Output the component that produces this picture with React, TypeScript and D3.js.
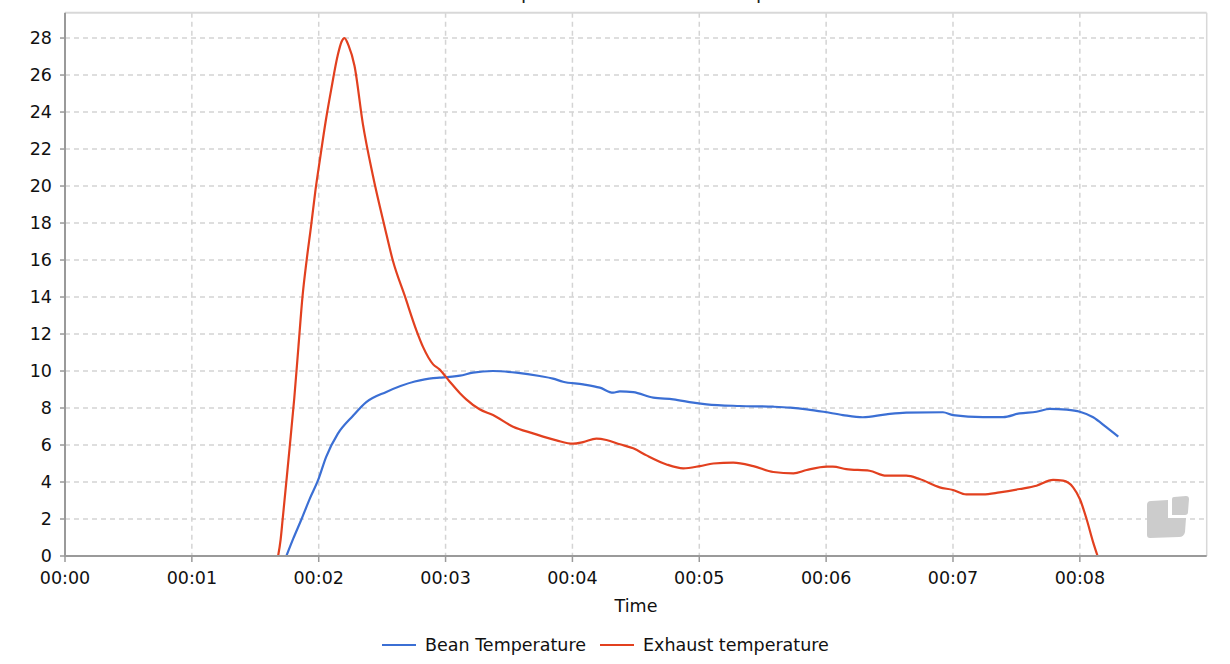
import React, { useRef, useEffect } from 'react';
import * as d3 from 'd3';

// time in minutes
const beanTimes = [1.745, 1.8, 1.865, 1.93, 1.995, 2.058, 2.15, 2.269, 2.375, 2.533, 2.757, 2.902, 2.953, 3.113, 3.216, 3.374, 3.558, 3.742, 3.847, 3.926, 4.084, 4.216, 4.321, 4.374, 4.479, 4.637, 4.795, 4.953, 5.058, 5.32, 5.584, 5.716, 5.847, 5.979, 6.132, 6.289, 6.474, 6.632, 6.921, 7.0, 7.237, 7.395, 7.526, 7.658, 7.763, 7.895, 8.0, 8.105, 8.211, 8.303];
const beanTemps = [0, 0.95, 2.0, 3.1, 4.1, 5.35, 6.6, 7.57, 8.32, 8.87, 9.43, 9.62, 9.64, 9.75, 9.91, 10.0, 9.91, 9.73, 9.59, 9.42, 9.28, 9.1, 8.83, 8.9, 8.86, 8.56, 8.47, 8.29, 8.2, 8.11, 8.07, 8.02, 7.93, 7.8, 7.62, 7.5, 7.66, 7.75, 7.77, 7.62, 7.51, 7.51, 7.71, 7.8, 7.95, 7.91, 7.8, 7.5, 6.95, 6.45];

const exhaustTimes = [1.68, 1.70, 1.716, 1.746, 1.77, 1.807, 1.84, 1.873, 1.905, 1.939, 1.975, 2.011, 2.055, 2.098, 2.15, 2.18, 2.203, 2.235, 2.282, 2.348, 2.427, 2.52, 2.586, 2.678, 2.77, 2.823, 2.902, 2.95, 3.03, 3.113, 3.163, 3.268, 3.374, 3.532, 3.689, 3.874, 4.005, 4.084, 4.189, 4.268, 4.374, 4.479, 4.584, 4.742, 4.874, 5.005, 5.111, 5.268, 5.426, 5.584, 5.742, 5.847, 6.005, 6.053, 6.158, 6.342, 6.474, 6.632, 6.737, 6.895, 7.0, 7.105, 7.237, 7.368, 7.526, 7.658, 7.789, 7.868, 7.947, 8.0, 8.053, 8.105, 8.14];
const exhaustTemps = [0, 0.9, 2.0, 4.1, 5.8, 8.5, 11.3, 14.07, 16.0, 17.79, 19.8, 21.5, 23.5, 25.2, 27.07, 27.8, 28.0, 27.6, 26.5, 23.36, 20.57, 17.79, 15.93, 14.07, 12.2, 11.29, 10.36, 10.1, 9.45, 8.8, 8.47, 7.93, 7.62, 6.99, 6.63, 6.25, 6.07, 6.16, 6.34, 6.27, 6.04, 5.82, 5.44, 4.95, 4.74, 4.86, 5.0, 5.05, 4.86, 4.54, 4.47, 4.65, 4.83, 4.83, 4.7, 4.61, 4.34, 4.34, 4.16, 3.71, 3.57, 3.33, 3.33, 3.44, 3.62, 3.8, 4.11, 4.07, 3.71, 3.08, 2.0, 0.74, 0];

const xTicks = [0, 1, 2, 3, 4, 5, 6, 7, 8];
const yTicks = [0, 2, 4, 6, 8, 10, 12, 14, 16, 18, 20, 22, 24, 26, 28];
const seriesNames = ['Bean Temperature', 'Exhaust temperature'];
const seriesColors = ['#3b6fd4', '#e2401f'];
const chartTitle = 'Bean Temperature vs Exhaust temperature';

export default function App() {
    const svgRef = useRef<SVGSVGElement | null>(null);

    useEffect(() => {
        const width = 1230;
        const height = 664;
        const margin = { top: 12.7, right: 23.3, bottom: 108, left: 65 };
        const font = 'DejaVu Sans';
        const fontSize = 17.5;

        d3.select(svgRef.current).selectAll('*').remove();

        const svg = d3
            .select(svgRef.current)
            .attr('width', width)
            .attr('height', height);

        const x = d3
            .scaleLinear()
            .domain([0, 9])
            .range([margin.left, width - margin.right]);

        const y = d3
            .scaleLinear()
            .domain([0, 29.37])
            .range([height - margin.bottom, margin.top]);

        const fmt = (m: number) => '00:' + String(m).padStart(2, '0');

        // title sits above the visible area, only descenders show
        svg.append('text')
            .attr('x', 633)
            .attr('y', -1.5)
            .attr('text-anchor', 'middle')
            .attr('font-family', font)
            .attr('font-size', 19)
            .attr('fill', '#222')
            .text(chartTitle);

        // grid
        svg.append('g')
            .selectAll('line')
            .data(yTicks.filter((d) => d > 0))
            .join('line')
            .attr('x1', x(0))
            .attr('x2', x(9))
            .attr('y1', (d) => y(d))
            .attr('y2', (d) => y(d))
            .attr('stroke', '#d4d4d4')
            .attr('stroke-width', 1.5)
            .attr('stroke-dasharray', '5,4');

        svg.append('g')
            .selectAll('line')
            .data(xTicks.filter((d) => d > 0))
            .join('line')
            .attr('x1', (d) => x(d))
            .attr('x2', (d) => x(d))
            .attr('y1', y(29.37))
            .attr('y2', y(0))
            .attr('stroke', '#d4d4d4')
            .attr('stroke-width', 1.5)
            .attr('stroke-dasharray', '5,4');

        // frame: top and right light, left and bottom darker
        svg.append('line')
            .attr('x1', x(0))
            .attr('x2', x(9))
            .attr('y1', y(29.37))
            .attr('y2', y(29.37))
            .attr('stroke', '#d8d8d8')
            .attr('stroke-width', 2);
        svg.append('line')
            .attr('x1', x(9))
            .attr('x2', x(9))
            .attr('y1', y(29.37))
            .attr('y2', y(0))
            .attr('stroke', '#d8d8d8')
            .attr('stroke-width', 1.5);

        // watermark
        const wm = svg.append('g').attr('fill', '#cccccc');
        wm.append('path').attr(
            'd',
            'M1151,501 L1168,500 L1168,518 L1186,518 L1185,532 Q1184,537 1179,537 L1150,538 Q1147,538 1147,535 L1147,505 Q1147,501 1151,501 Z'
        );
        wm.append('path').attr(
            'd',
            'M1174,497 L1186,496 Q1189,496 1189,499 L1188,512 Q1188,515 1185,515 L1172,515 L1172,499 Q1172,497 1174,497 Z'
        );

        // lines
        const line = d3
            .line<[number, number]>()
            .x((d) => x(d[0]))
            .y((d) => y(d[1]))
            .curve(d3.curveMonotoneX);

        const bean = beanTimes.map((t, i) => [t, beanTemps[i]] as [number, number]);
        const exhaust = exhaustTimes.map((t, i) => [t, exhaustTemps[i]] as [number, number]);

        [bean, exhaust].forEach((pts, i) => {
            svg.append('path')
                .attr('d', line(pts))
                .attr('fill', 'none')
                .attr('stroke', seriesColors[i])
                .attr('stroke-width', 2.2)
                .attr('stroke-linejoin', 'round');
        });

        // axes
        const axisColor = '#9a9a9a';
        svg.append('line')
            .attr('x1', x(0))
            .attr('x2', x(0))
            .attr('y1', y(29.37))
            .attr('y2', y(0))
            .attr('stroke', axisColor)
            .attr('stroke-width', 2);
        svg.append('line')
            .attr('x1', x(0) - 1)
            .attr('x2', x(9))
            .attr('y1', y(0))
            .attr('y2', y(0))
            .attr('stroke', axisColor)
            .attr('stroke-width', 2);

        yTicks.forEach((d) => {
            svg.append('line')
                .attr('x1', x(0) - 5)
                .attr('x2', x(0))
                .attr('y1', y(d))
                .attr('y2', y(d))
                .attr('stroke', axisColor)
                .attr('stroke-width', 1.5);
            svg.append('text')
                .attr('x', 52)
                .attr('y', y(d) + 6)
                .attr('text-anchor', 'end')
                .attr('font-family', font)
                .attr('font-size', fontSize)
                .attr('fill', '#111')
                .text(d);
        });

        xTicks.forEach((d) => {
            svg.append('line')
                .attr('x1', x(d))
                .attr('x2', x(d))
                .attr('y1', y(0))
                .attr('y2', y(0) + 6)
                .attr('stroke', axisColor)
                .attr('stroke-width', 1.5);
            svg.append('text')
                .attr('x', x(d))
                .attr('y', y(0) + 28)
                .attr('text-anchor', 'middle')
                .attr('font-family', font)
                .attr('font-size', fontSize)
                .attr('fill', '#111')
                .text(fmt(d));
        });

        svg.append('text')
            .attr('x', 636)
            .attr('y', 612)
            .attr('text-anchor', 'middle')
            .attr('font-family', font)
            .attr('font-size', fontSize)
            .attr('fill', '#111')
            .text('Time');

        // legend
        const legendX = [382, 600];
        seriesNames.forEach((name, i) => {
            svg.append('line')
                .attr('x1', legendX[i])
                .attr('x2', legendX[i] + 34)
                .attr('y1', 645)
                .attr('y2', 645)
                .attr('stroke', seriesColors[i])
                .attr('stroke-width', 2.2);
            svg.append('text')
                .attr('x', legendX[i] + 43)
                .attr('y', 651)
                .attr('font-family', font)
                .attr('font-size', fontSize)
                .attr('fill', '#111')
                .text(name);
        });
    }, []);

    return <svg ref={svgRef} style={{ position: 'absolute', left: 0, top: 0 }}></svg>;
}
